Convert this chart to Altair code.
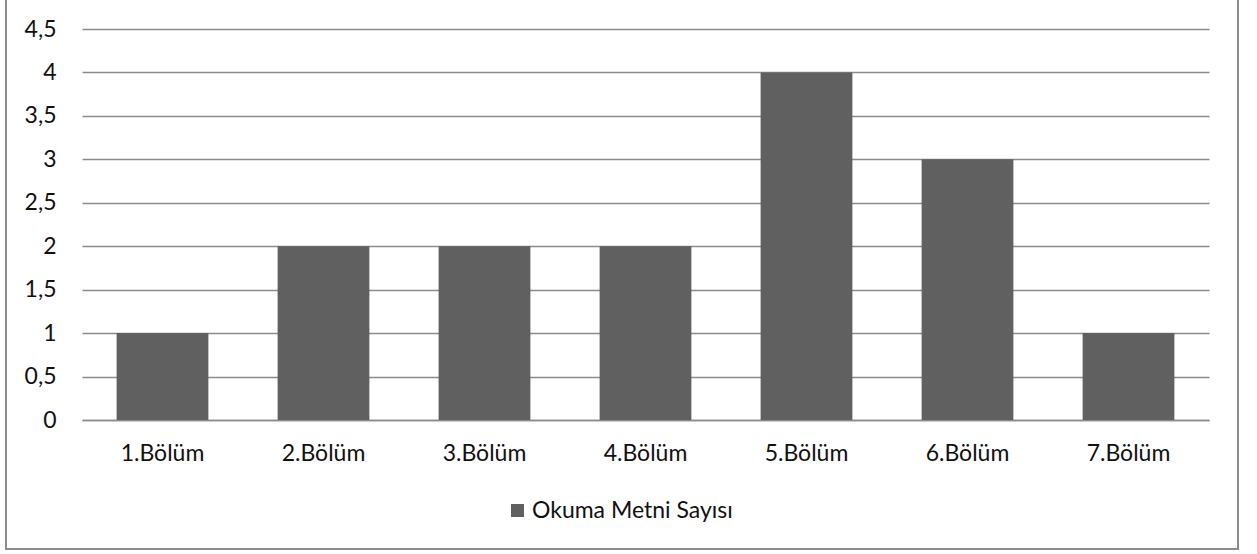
import altair as alt
import pandas as pd

categories = ["1.Bölüm", "2.Bölüm", "3.Bölüm", "4.Bölüm", "5.Bölüm", "6.Bölüm", "7.Bölüm"]
values = [1, 2, 2, 2, 4, 3, 1]
series_name = "Okuma Metni Sayısı"
y_ticks = [0, 0.5, 1, 1.5, 2, 2.5, 3, 3.5, 4, 4.5]

df = pd.DataFrame({"Bölüm": categories, "Değer": values, "Seri": [series_name] * len(categories)})

FONT = "Lato"
FS = 23
W, H = 1127, 391

bars = alt.Chart(df).mark_bar(color="#606060").encode(
    x=alt.X("Bölüm:N", sort=categories, title=None,
            scale=alt.Scale(paddingInner=0.43, paddingOuter=0.215),
            axis=alt.Axis(labelAngle=0, ticks=False, domain=True, domainColor="#8c8c8c",
                          domainWidth=1.5, labelPadding=22, labelFontSize=FS, labelFont=FONT,
                          labelColor="#111111", grid=False)),
    y=alt.Y("Değer:Q", title=None,
            scale=alt.Scale(domain=[0, 4.5], nice=False),
            axis=alt.Axis(values=y_ticks, ticks=False, domain=False, grid=True,
                          gridColor="#8c8c8c", gridWidth=1.5, labelPadding=26,
                          labelFontSize=FS, labelFont=FONT, labelColor="#111111",
                          labelExpr="replace(format(datum.value, ''), '.', ',')")),
    fill=alt.Fill("Seri:N", scale=alt.Scale(range=["#606060"]),
                  legend=alt.Legend(title=None, orient="none", legendX=424, legendY=470,
                                    symbolType="square", symbolSize=170, symbolStrokeWidth=0,
                                    labelFontSize=FS, labelFont=FONT, labelColor="#111111",
                                    labelLimit=400, labelOffset=3, symbolOffset=0)),
)

border = alt.Chart(pd.DataFrame({"a": [0]})).mark_rect(
    fill=None, stroke="#8c8c8c", strokeWidth=2, clip=False
).encode(
    x=alt.value(-76), x2=alt.value(1156), y=alt.value(-30), y2=alt.value(520)
)

chart = alt.layer(border, bars).properties(
    width=W, height=H,
    background="white",
    autosize=alt.AutoSizeParams(type="none"),
    padding={"left": 82, "top": 29, "right": 48, "bottom": 134},
).configure_view(strokeWidth=0, stroke="transparent")

chart.save("out.html", embed_options={"renderer": "svg", "actions": False})
